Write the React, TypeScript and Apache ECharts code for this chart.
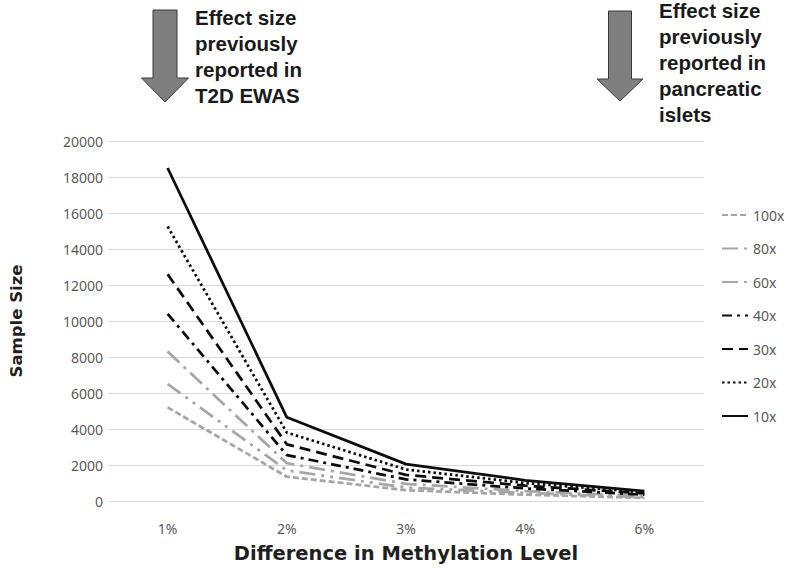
import React, { useEffect, useRef } from "react";
import * as echarts from "echarts";

const categories = ["1%", "2%", "3%", "4%", "6%"];
const yTicks = { min: 0, max: 20000, interval: 2000 };

const s100x = [5200, 1350, 600, 350, 170];
const s80x = [6500, 1700, 750, 450, 210];
const s60x = [8300, 2100, 950, 550, 270];
const s40x = [10400, 2550, 1200, 700, 350];
const s30x = [12600, 3150, 1450, 850, 420];
const s20x = [15250, 3800, 1750, 1000, 480];
const s10x = [18500, 4650, 2050, 1150, 550];

const seriesNames = ["100x", "80x", "60x", "40x", "30x", "20x", "10x"];
const seriesData = [s100x, s80x, s60x, s40x, s30x, s20x, s10x];

const leftNote = ["Effect size", "previously", "reported in", "T2D EWAS"];
const rightNote = ["Effect size", "previously", "reported in", "pancreatic", "islets"];

const GRAY = "#a6a6a6";
const BLACK = "#0d0d0d";
const styles: any[] = [
  { color: GRAY, type: [6, 3] },
  { color: GRAY, type: [16, 6, 3, 6, 3, 6] },
  { color: GRAY, type: [16, 6, 3, 6] },
  { color: BLACK, type: [10, 5, 3, 5] },
  { color: BLACK, type: [11, 6] },
  { color: BLACK, type: [2.5, 3] },
  { color: BLACK, type: "solid" },
];

function arrow(x: number, top: number, shaftW: number, headW: number, headTop: number, tip: number) {
  return {
    type: "polygon",
    shape: {
      points: [
        [x - shaftW / 2, top],
        [x + shaftW / 2, top],
        [x + shaftW / 2, headTop],
        [x + headW / 2, headTop],
        [x, tip],
        [x - headW / 2, headTop],
        [x - shaftW / 2, headTop],
      ],
    },
    style: { fill: "#7f7f7f", stroke: "#3a3a3a", lineWidth: 1 },
  };
}

export default function App() {
  const ref = useRef<HTMLDivElement>(null);
  useEffect(() => {
    if (!ref.current) return;
    const chart = echarts.init(ref.current, null, { renderer: "svg" });
    const font = "'Noto Sans', 'Liberation Sans', sans-serif";
    const boldFont = "'Liberation Sans', Arial, sans-serif";
    const titleFont = "'DejaVu Sans', sans-serif";
    chart.setOption({
      animation: false,
      backgroundColor: "#ffffff",
      grid: { left: 103, right: 83, top: 141, bottom: 68 },
      legend: {
        orient: "vertical",
        left: 716,
        top: 203,
        itemWidth: 26,
        itemHeight: 14,
        itemGap: 19.5,
        data: seriesNames,
        itemStyle: { opacity: 0 },
        textStyle: { color: "#595959", fontSize: 14, fontFamily: font },
      },
      xAxis: {
        type: "category",
        data: categories,
        boundaryGap: true,
        axisLine: { show: true, lineStyle: { color: "#d9d9d9" } },
        axisTick: { show: false },
        axisLabel: { color: "#595959", fontSize: 14, fontFamily: font, margin: 20 },
        name: "Difference in Methylation Level",
        nameLocation: "middle",
        nameGap: 42,
        nameTextStyle: { color: "#1f1f1f", fontSize: 19.5, fontWeight: "bold", fontFamily: titleFont },
      },
      yAxis: {
        type: "value",
        min: yTicks.min,
        max: yTicks.max,
        interval: yTicks.interval,
        axisLine: { show: false },
        axisTick: { show: false },
        splitLine: { lineStyle: { color: "#d9d9d9", width: 1 } },
        axisLabel: {
          color: "#595959",
          fontSize: 14,
          fontFamily: font,
          margin: 5,
          formatter: (v: number) => String(v),
        },
        name: "Sample Size",
        nameLocation: "middle",
        nameGap: 83,
        nameTextStyle: { color: "#1f1f1f", fontSize: 16.5, fontWeight: "bold", fontFamily: titleFont },
      },
      series: seriesNames.map((name, i) => ({
        name,
        type: "line",
        data: seriesData[i],
        symbol: "none",
        lineStyle: { color: styles[i].color, width: 2.75, type: styles[i].type },
        itemStyle: { color: styles[i].color },
      })),
      graphic: [
        arrow(165, 10, 24, 47, 78, 102),
        arrow(620, 11, 23, 46, 79, 101),
        {
          type: "text",
          left: 195,
          top: 4,
          style: {
            text: leftNote.join("\n"),
            fontSize: 20.5,
            fontWeight: "bold",
            fontFamily: boldFont,
            lineHeight: 26,
            fill: "#1a1a1a",
          },
        },
        {
          type: "text",
          left: 659,
          top: -3,
          style: {
            text: rightNote.join("\n"),
            fontSize: 20.5,
            fontWeight: "bold",
            fontFamily: boldFont,
            lineHeight: 26,
            fill: "#1a1a1a",
          },
        },
      ],
    });
    return () => chart.dispose();
  }, []);
  return <div ref={ref} style={{ width: 787, height: 569, position: "absolute", left: 0, top: 0 }} />;
}
